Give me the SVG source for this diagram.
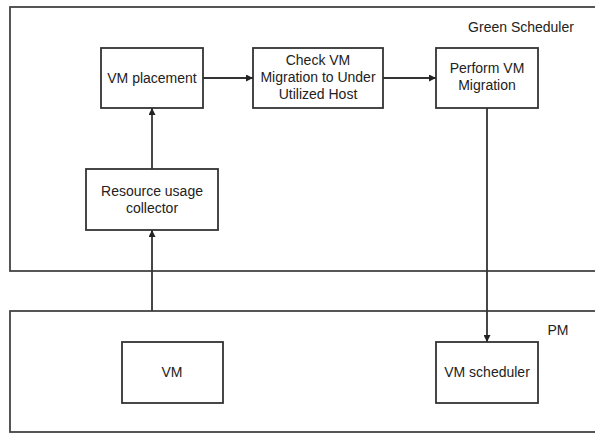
<svg xmlns="http://www.w3.org/2000/svg" width="595" height="435" viewBox="0 0 595 435">
<style>
.box{fill:#fff;stroke:#333;stroke-width:1.8}
.frame{fill:none;stroke:#444;stroke-width:1.8}
.t{font-family:"Liberation Sans",Arial,sans-serif;font-size:14px;fill:#222;text-anchor:middle}
.c{stroke:#333;stroke-width:1.8;fill:none;marker-end:url(#ah)}
</style>
<defs>
<marker id="ah" viewBox="0 0 10 10" refX="10" refY="5" markerWidth="9" markerHeight="7" markerUnits="userSpaceOnUse" orient="auto">
<path d="M0,0 L10,5 L0,10 z" fill="#222"/>
</marker>
</defs>
<rect width="595" height="435" fill="#fff"/>
<g id="green-scheduler">
<rect class="frame" x="10" y="7" width="600" height="264"/>
<text class="t" x="521" y="32">Green Scheduler</text>
</g>
<g id="pm">
<rect class="frame" x="10" y="311" width="600" height="121"/>
<text class="t" x="558" y="335">PM</text>
</g>
<g id="vm-placement">
<rect class="box" x="101" y="48" width="102" height="60"/>
<text class="t" x="152" y="83">VM placement</text>
</g>
<g id="check-vm">
<rect class="box" x="253" y="48" width="130" height="60"/>
<text class="t" x="318" y="65">Check VM</text>
<text class="t" x="318" y="82">Migration to Under</text>
<text class="t" x="318" y="99">Utilized Host</text>
</g>
<g id="perform-vm">
<rect class="box" x="436" y="48" width="102" height="60"/>
<text class="t" x="487" y="73">Perform VM</text>
<text class="t" x="487" y="90">Migration</text>
</g>
<g id="resource-collector">
<rect class="box" x="86" y="169" width="132" height="61"/>
<text class="t" x="152" y="196">Resource usage</text>
<text class="t" x="152" y="213">collector</text>
</g>
<g id="vm">
<rect class="box" x="122" y="342" width="101" height="61"/>
<text class="t" x="172" y="377">VM</text>
</g>
<g id="vm-scheduler">
<rect class="box" x="436" y="342" width="102" height="61"/>
<text class="t" x="487" y="377">VM scheduler</text>
</g>
<g id="connectors">
<line class="c" x1="203" y1="78" x2="253" y2="78"/>
<line class="c" x1="383" y1="78" x2="436" y2="78"/>
<line class="c" x1="152" y1="169" x2="152" y2="108"/>
<line class="c" x1="152" y1="311" x2="152" y2="230"/>
<line class="c" x1="487" y1="108" x2="487" y2="342"/>
</g>
</svg>
